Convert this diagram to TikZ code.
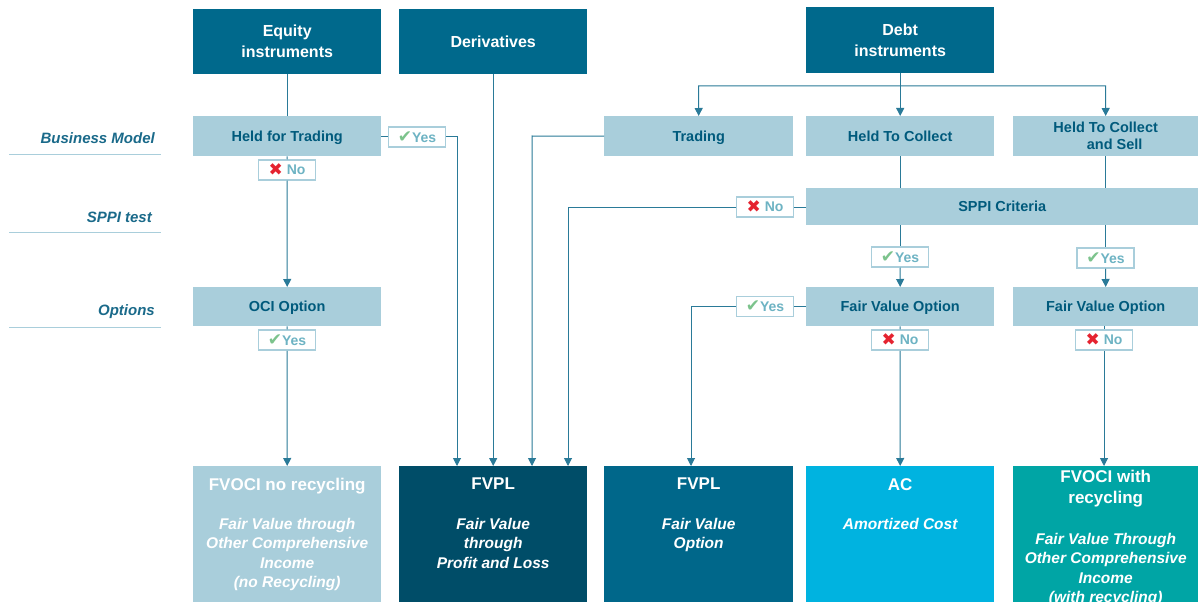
\documentclass[tikz,border=0pt]{standalone}
\usepackage{fontspec}
\setmainfont{Liberation Sans}
\newfontfamily\symf{DejaVu Sans}
\usetikzlibrary{arrows.meta}
\definecolor{hdr}{HTML}{00698C}
\definecolor{lite}{HTML}{A9CEDB}
\definecolor{ltxt}{HTML}{005A7C}
\definecolor{lbl}{HTML}{1A6A8A}
\definecolor{linec}{HTML}{2A7A98}
\definecolor{yn}{HTML}{6DB3C3}
\definecolor{chk}{HTML}{7CC38C}
\definecolor{crs}{HTML}{E52330}
\definecolor{fvpl}{HTML}{004D68}
\definecolor{fvo}{HTML}{00678A}
\definecolor{acc}{HTML}{00B3E0}
\definecolor{fvr}{HTML}{00A5A5}
\newcommand\fsz[2]{\fontsize{#1}{#2}\selectfont}
\newcommand\yesmark{{\symf\color{chk}\fsz{17}{16}✔}Yes}
\newcommand\nomark{\raisebox{-1.5pt}{\symf\color{crs}\fsz{17}{16}✖}\hspace{4pt}No}
\begin{document}
\begin{tikzpicture}[x=1pt,y=-1pt,
  ln/.style={draw=linec, line width=1pt},
  arr/.style={ln, -{Triangle[length=8pt,width=8pt]}},
  hdrbox/.style={fill=hdr, text=white, font=\bfseries\fsz{16}{21}, align=center, inner sep=0, minimum height=65, minimum width=188, anchor=north west},
  litebox/.style={fill=lite, text=ltxt, font=\bfseries\fsz{14.5}{17}, align=center, inner sep=0, minimum height=40, anchor=north west, text depth=0.5pt},
  resbox/.style={inner sep=0, minimum height=136, anchor=north west},
  ttl/.style={anchor=north, text=white, font=\bfseries\fsz{17}{21}, align=center, inner sep=0},
  sub/.style={anchor=north, text=white, font=\bfseries\itshape\fsz{15.5}{19.5}, align=center, inner sep=0},
  ynbox/.style={draw=lite, line width=1.5pt, fill=white, text=yn, font=\bfseries\fsz{14}{15}, minimum width=57, minimum height=20, inner sep=0},
  sidelbl/.style={anchor=east, text=lbl, font=\bfseries\itshape\fsz{15}{18}, inner sep=0},
  sideln/.style={draw=lite, line width=0.8pt}]
\useasboundingbox (0,0) rectangle (1198,604);
\fill[white] (0,0) rectangle (1198,604);

% side labels
\node[sidelbl] (lbm) at (155,138) {Business Model};
\node[sidelbl] (lsp) at (152,217) {SPPI test};
\node[sidelbl] (lop) at (155,312) {Options};
\draw[sideln] (9,154) -- (161,154);
\draw[sideln] (9,232) -- (161,232);
\draw[sideln] (9,327) -- (161,327);

% headers
\node[hdrbox] (eq) at (193,9) {Equity\\instruments};
\node[hdrbox] (der) at (399,9) {Derivatives};
\node[hdrbox, minimum height=66] (debt) at (806,7) {Debt\\instruments};

% business model row
\node[litebox, minimum width=188] (hft) at (193,116) {Held for Trading};
\node[litebox, minimum width=189] (trd) at (604,116) {Trading};
\node[litebox, minimum width=188] (htc) at (806,116) {Held To Collect};
\node[litebox, minimum width=185] (htcs) at (1013,116) {Held To Collect\\\hspace*{18pt}and Sell};

% SPPI row
\node[litebox, minimum width=392, minimum height=37] (sppi) at (806,188) {SPPI Criteria};

% options row
\node[litebox, minimum width=188, minimum height=39] (oci) at (193,287) {OCI Option};
\node[litebox, minimum width=188, minimum height=39] (fvo1) at (806,287) {Fair Value Option};
\node[litebox, minimum width=185, minimum height=39] (fvo2) at (1013,287) {Fair Value Option};

% result boxes
\node[resbox, fill=lite, minimum width=188] (r1) at (193,466) {};
\node[resbox, fill=fvpl, minimum width=188] (r2) at (399,466) {};
\node[resbox, fill=fvo, minimum width=189] (r3) at (604,466) {};
\node[resbox, fill=acc, minimum width=188] (r4) at (806,466) {};
\node[resbox, fill=fvr, minimum width=185] (r5) at (1013,466) {};

\node[ttl] (t1) at ([yshift=-12pt]r1.north) {FVOCI no recycling};
\node[sub] (s1) at ([yshift=-52pt]r1.north) {Fair Value through\\Other Comprehensive\\Income\\(no Recycling)};
\node[ttl] (t2) at ([yshift=-12pt]r2.north) {FVPL};
\node[sub] (s2) at ([yshift=-52pt]r2.north) {Fair Value\\through\\Profit and Loss};
\node[ttl] (t3) at ([yshift=-12pt]r3.north) {FVPL};
\node[sub] (s3) at ([yshift=-52pt]r3.north) {Fair Value\\Option};
\node[ttl] (t4) at ([yshift=-12pt]r4.north) {AC};
\node[sub] (s4) at ([yshift=-52pt]r4.north) {Amortized Cost};
\node[ttl] (t5) at ([yshift=-4pt]r5.north) {FVOCI with\\recycling};
\node[sub] (s5) at ([yshift=-67pt]r5.north) {Fair Value Through\\Other Comprehensive\\Income\\(with recycling)};

% yes / no labels
\node[ynbox] (no1) at (287,170) {\nomark};
\node[ynbox] (yes1) at (417,137) {\yesmark};
\node[ynbox] (no2) at (765,207) {\nomark};
\node[ynbox] (yes2) at (900,257) {\yesmark};
\node[ynbox] (yes3) at (1105.5,258) {\yesmark};
\node[ynbox] (yes4) at (765,306.5) {\yesmark};
\node[ynbox] (no3) at (900,340) {\nomark};
\node[ynbox] (no4) at (1104,340) {\nomark};
\node[ynbox] (yes5) at (287,340) {\yesmark};

% coordinates for bends
\coordinate (c1) at (457,137);
\coordinate (c2) at (532,136);
\coordinate (c3) at (568,207);
\coordinate (c6) at (691,306.5);
\coordinate (dj) at (900,86);
\coordinate (dl) at (698.5,86);
\coordinate (dr) at (1105.5,86);

% equity
\draw[ln] (eq.south) -- (hft.north);
\draw[ln] (hft.south) -- (no1.north);
\draw[arr] (no1.south) -- (oci.north);
\draw[ln] (oci.south) -- (yes5.north);
\draw[arr] (yes5.south) -- (r1.north);
\draw[ln] (hft.east |- yes1.west) -- (yes1.west);
\draw[arr] (yes1.east) -- (c1) -- (c1 |- r2.north);

% derivatives
\draw[arr] (der.south) -- (r2.north);

% debt
\draw[arr] (debt.south) -- (htc.north);
\draw[arr] (dj) -- (dl) -- (trd.north);
\draw[arr] (dj) -- (dr) -- (htcs.north);
\draw[arr] (trd.west) -- (c2) -- (c2 |- r2.north);
\draw[ln] (htc.south) -- (htc.south |- sppi.north);
\draw[ln] (htcs.south) -- (htcs.south |- sppi.north);
\draw[ln] (sppi.west |- no2.east) -- (no2.east);
\draw[arr] (no2.west) -- (c3) -- (c3 |- r2.north);
\draw[ln] (yes2.north |- sppi.south) -- (yes2.north);
\draw[arr] (yes2.south) -- (fvo1.north);
\draw[ln] (yes3.north |- sppi.south) -- (yes3.north);
\draw[arr] (yes3.south) -- (fvo2.north);
\draw[ln] (fvo1.west |- yes4.east) -- (yes4.east);
\draw[arr] (yes4.west) -- (c6) -- (c6 |- r3.north);
\draw[ln] (fvo1.south) -- (no3.north);
\draw[arr] (no3.south) -- (r4.north);
\draw[ln] (fvo2.south -| no4.north) -- (no4.north);
\draw[arr] (no4.south) -- (r5.north -| no4.south);
\end{tikzpicture}
\end{document}
